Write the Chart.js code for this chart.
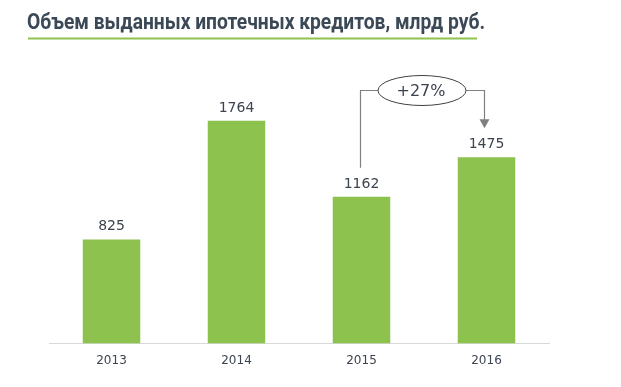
<!DOCTYPE html>
<html>
<head>
<meta charset="utf-8">
<script src="https://cdn.jsdelivr.net/npm/chart.js@4"></script>
<style>
  html, body { margin: 0; padding: 0; background: #ffffff; }
  #wrap { width: 621px; height: 387px; }
</style>
</head>
<body>
<div id="wrap"><canvas id="chart" width="621" height="387"></canvas></div>
<script>
"use strict";

const titleText = "Объем выданных ипотечных кредитов, млрд руб.";
const years = ["2013", "2014", "2015", "2016"];
const volumes = [825, 1764, 1162, 1475];
const growthLabel = "+27%";

const barColor = "#8dc24e";
const textColor = "#3c4450";

// title + green underline
const titlePlugin = {
  id: "titleLine",
  afterDraw: (chart) => {
    const { ctx } = chart;
    ctx.save();
    ctx.font = "bold 22px Roboto";
    ctx.fillStyle = "#3b4856";
    ctx.textBaseline = "alphabetic";
    const w = ctx.measureText(titleText).width;
    ctx.translate(27, 28.5);
    ctx.scale(Math.min(1.1, 458 / w), 1);
    ctx.fillText(titleText, 0, 0);
    ctx.restore();

    ctx.save();
    ctx.strokeStyle = "#8dc24e";
    ctx.lineWidth = 2;
    ctx.beginPath();
    ctx.moveTo(28, 38.5);
    ctx.lineTo(477, 38.5);
    ctx.stroke();
    ctx.restore();
  },
};

// value labels above bars
const valuePlugin = {
  id: "values",
  afterDatasetsDraw: (chart) => {
    const { ctx } = chart;
    const meta = chart.getDatasetMeta(0);
    ctx.save();
    ctx.font = "14px 'DejaVu Sans'";
    ctx.fillStyle = textColor;
    ctx.textAlign = "center";
    ctx.textBaseline = "alphabetic";
    meta.data.forEach((bar, i) => {
      ctx.fillText(String(volumes[i]), bar.x, bar.y - 9);
    });
    ctx.restore();
  },
};

// growth bracket from 2015 to 2016
const growthPlugin = {
  id: "growth",
  afterDatasetsDraw: (chart) => {
    const { ctx } = chart;
    const meta = chart.getDatasetMeta(0);
    const a = meta.data[2];
    const b = meta.data[3];
    const lineY = Math.round(chart.scales.y.getPixelForValue(2010)) + 0.5;
    const cx = (a.x + b.x) / 2 - 2;
    const rx = 44;
    const ry = 15;
    const ax = Math.round(a.x - 2) + 0.5;
    const bx = Math.round(b.x - 3) + 0.5;

    ctx.save();
    ctx.strokeStyle = "#808080";
    ctx.lineWidth = 1.2;
    ctx.beginPath();
    ctx.moveTo(ax, a.y - 29);
    ctx.lineTo(ax, lineY);
    ctx.lineTo(cx - rx, lineY);
    ctx.stroke();

    ctx.beginPath();
    ctx.moveTo(cx + rx, lineY);
    ctx.lineTo(bx, lineY);
    ctx.lineTo(bx, b.y - 37);
    ctx.stroke();

    ctx.fillStyle = "#808080";
    ctx.beginPath();
    ctx.moveTo(bx - 5, b.y - 38);
    ctx.lineTo(bx + 5, b.y - 38);
    ctx.lineTo(bx, b.y - 29);
    ctx.closePath();
    ctx.fill();

    ctx.strokeStyle = "#404040";
    ctx.lineWidth = 1;
    ctx.beginPath();
    ctx.ellipse(cx, lineY, rx, ry, 0, 0, Math.PI * 2);
    ctx.fillStyle = "#ffffff";
    ctx.fill();
    ctx.stroke();

    ctx.font = "16px 'DejaVu Sans'";
    ctx.fillStyle = textColor;
    ctx.textAlign = "center";
    ctx.textBaseline = "middle";
    ctx.fillText(growthLabel, cx - 1, lineY + 1);
    ctx.restore();
  },
};

const ctx = document.getElementById("chart").getContext("2d");

new Chart(ctx, {
  type: "bar",
  data: {
    labels: years,
    datasets: [
      {
        data: volumes,
        backgroundColor: barColor,
        categoryPercentage: 1,
        barPercentage: 0.46,
      },
    ],
  },
  options: {
    responsive: false,
    animation: false,
    devicePixelRatio: 1,
    layout: { padding: { left: 49, right: 72, top: 91, bottom: 9 } },
    plugins: {
      legend: { display: false },
      tooltip: { enabled: false },
      title: { display: false },
    },
    scales: {
      x: {
        grid: { display: false, drawTicks: false },
        border: { display: true, color: "#d9d9d9", width: 1 },
        ticks: {
          color: textColor,
          font: { family: "'DejaVu Sans'", size: 12 },
          padding: 10,
        },
      },
      y: {
        display: false,
        min: 0,
        max: 2000,
      },
    },
  },
  plugins: [titlePlugin, valuePlugin, growthPlugin],
});
</script>
</body>
</html>
